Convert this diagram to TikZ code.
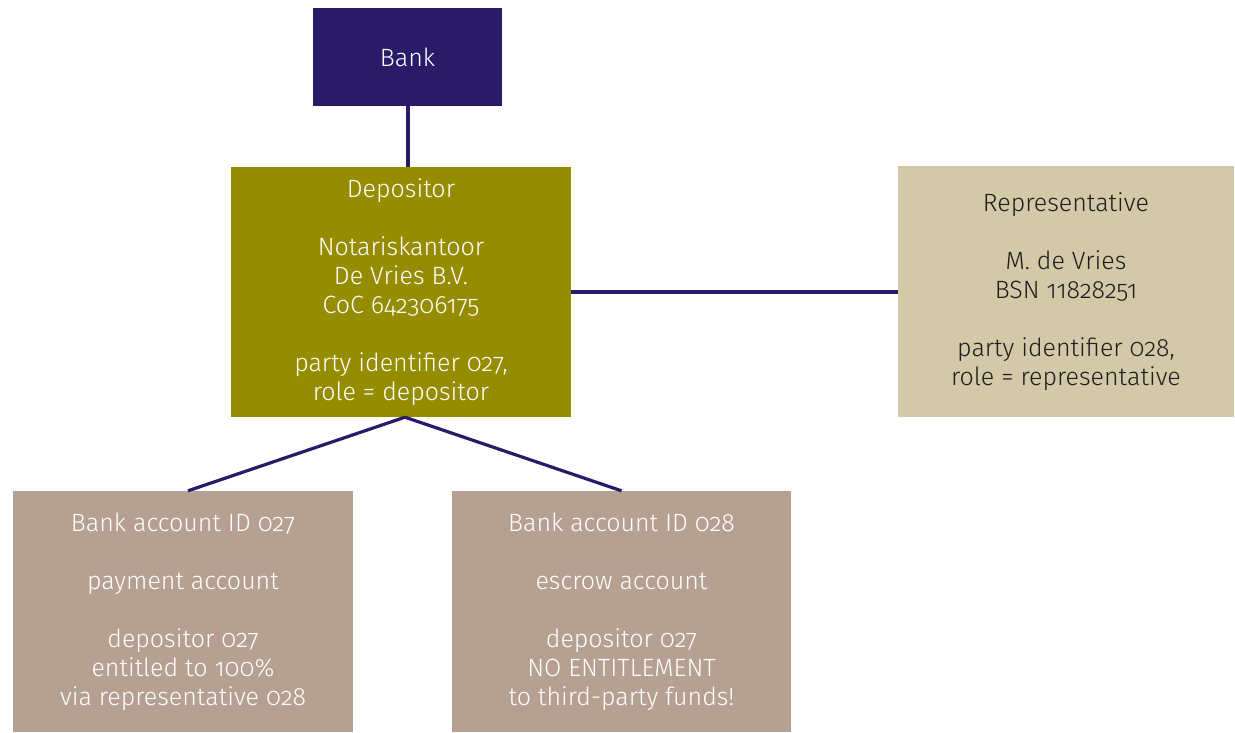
\documentclass[tikz,border=0pt]{standalone}
\usepackage{fontspec}
\setmainfont{Fira Sans Light}[Numbers=OldStyle]
\definecolor{bankc}{RGB}{42,27,104}
\definecolor{depc}{RGB}{150,140,0}
\definecolor{repc}{RGB}{211,200,167}
\definecolor{accc}{RGB}{181,160,146}
\definecolor{darktext}{RGB}{30,30,30}
\tikzset{
  box/.style={rectangle, inner sep=0pt, align=center, font=\fontsize{25}{29}\selectfont},
  link/.style={draw=bankc, line width=3.2pt}
}
\begin{document}
\begin{tikzpicture}[x=1pt,y=-1pt]
\useasboundingbox (0,0) rectangle (1235,733);
\node[box, fill=bankc, text=white, minimum width=189pt, minimum height=98pt] (bank) at (407.5,57) {Bank};
\node[box, fill=depc, text=white, minimum width=340pt, minimum height=250pt] (dep) at (401,292)
  {Depositor\\[29pt]Notariskantoor\\De Vries B.V.\\CoC 642306175\\[29pt]party identifier 027,\\role = depositor};
\node[box, fill=repc, text=darktext, minimum width=336pt, minimum height=251pt] (rep) at (1066,291.5)
  {Representative\\[29pt]M. de Vries\\BSN 11828251\\[29pt]party identifier 028,\\role = representative};
\node[box, fill=accc, text=white, minimum width=340pt, minimum height=241pt] (acc1) at (183,611.5)
  {Bank account ID 027\\[29pt]payment account\\[29pt]depositor 027\\entitled to 100\%\\via representative 028};
\node[box, fill=accc, text=white, minimum width=339pt, minimum height=241pt] (acc2) at (621.5,611.5)
  {Bank account ID 028\\[29pt]escrow account\\[29pt]depositor 027\\NO ENTITLEMENT\\to third-party funds!};
\coordinate (fork) at ([xshift=4pt]dep.south);
\draw[link] ([xshift=0.5pt]bank.south) -- ([xshift=0.5pt]bank.south |- dep.north);
\draw[link] (dep.east) -- (dep.east -| rep.west);
\draw[link] (fork) -- ([xshift=5pt]acc1.north);
\draw[link] (fork) -- (acc2.north);
\end{tikzpicture}
\end{document}
